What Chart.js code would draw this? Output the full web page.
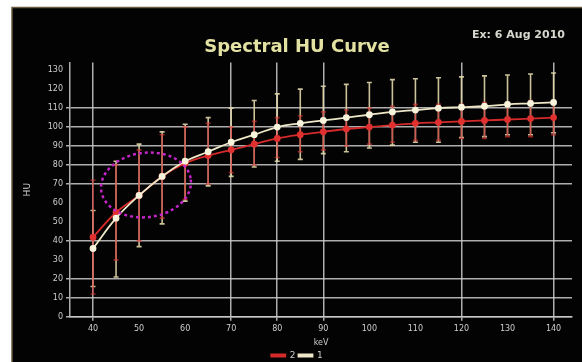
<!DOCTYPE html>
<html><head><meta charset="utf-8">
<script src="https://cdn.jsdelivr.net/npm/chart.js@4/dist/chart.umd.min.js"></script>
<style>html,body{margin:0;padding:0;background:#fff;overflow:hidden}#wrap{width:582px;height:362px;position:relative}</style>
</head><body><div id="wrap"><canvas id="c" width="582" height="362"></canvas></div>
<script>
// ---- data ----
const kv = [40,45,50,55,60,65,70,75,80,85,90,95,100,105,110,115,120,125,130,135,140];
const hu1 = [36,52,64,74,82,87,92,96,100,102,103.5,105,106.5,108,109,110,110.5,111,112,112.5,113];
const hu1Low = [16,21,37,49,61,69,74,79,82,83,86,87,89,90.5,92,92,94.5,95,96,96,97];
const hu1High = [56,82,91,97.5,101.5,105,110,114,117.5,120,121.5,122.5,123.5,125,125.5,126,126.5,127,127.5,128,128.5];
const hu2 = [42,55,64,74,81,85,88,91,94,96,97.5,99,100,101,102,102.5,103,103.5,104,104.5,105];
const hu2Low = [12,30,40,52,62,70,76,80,84,87,88,90,91,92,93,93,94,94,95,95,96];
const hu2High = [72,80,88,96,100,102,100,103,105,106,108,109,110,111,112,112,112,113,113,114,114];
const xTicks = [40,50,60,70,80,90,100,110,120,130,140];
const yTicks = [0,10,20,30,40,50,60,70,80,90,100,110,120,130];
const xGridShown = [40,70,80,90,120,140];
const yGridShown = [0,10,20,40,70,80,90,100,110];
const ellipseData = [51.5, 69.5, 9.8, 17]; // cx (kV), cy (HU), rx (kV), ry (HU)
const seriesNames = ['1','2'];

const GRID = 'rgba(205,205,205,0.85)';

const bgPlugin = {
  id:'bg',
  beforeDraw(chart){
    const c = chart.ctx;
    c.save();
    c.fillStyle='#ffffff'; c.fillRect(0,0,chart.width,chart.height);
    c.fillStyle='#030303'; c.fillRect(12,7,chart.width-12,chart.height-7);
    c.strokeStyle='#6a5a40'; c.lineWidth=1.5;
    c.beginPath(); c.moveTo(12,362); c.lineTo(12,7.5); c.lineTo(582,7.5); c.stroke();
    c.restore();
  }
};

function drawBars(c, xs, ys, low, high, color, w, cap){
  c.strokeStyle=color; c.lineWidth=w;
  for(let i=0;i<kv.length;i++){
    const x = xs.getPixelForValue(kv[i]);
    const y1 = ys.getPixelForValue(low[i]);
    const y2 = ys.getPixelForValue(high[i]);
    c.beginPath(); c.moveTo(x,y1); c.lineTo(x,y2);
    c.moveTo(x-cap,y1); c.lineTo(x+cap,y1);
    c.moveTo(x-cap,y2); c.lineTo(x+cap,y2);
    c.stroke();
  }
}

const errPlugin = {
  id:'err',
  beforeDatasetsDraw(chart){
    const c = chart.ctx, xs = chart.scales.x, ys = chart.scales.y;
    c.save();
    drawBars(c, xs, ys, hu1Low, hu1High, 'rgba(225,215,170,0.9)', 1.6, 2.5);
    drawBars(c, xs, ys, hu2Low, hu2High, 'rgba(210,50,50,0.7)', 1.6, 2.5);
    c.restore();
  }
};

const ellipsePlugin = {
  id:'ell',
  afterDatasetsDraw(chart){
    const c = chart.ctx, xs = chart.scales.x, ys = chart.scales.y;
    const cx = xs.getPixelForValue(ellipseData[0]);
    const cy = ys.getPixelForValue(ellipseData[1]);
    const rx = Math.abs(xs.getPixelForValue(ellipseData[0]+ellipseData[2]) - cx);
    const ry = Math.abs(ys.getPixelForValue(ellipseData[1]+ellipseData[3]) - cy);
    c.save();
    c.strokeStyle='#c424c8'; c.lineWidth=2.5; c.setLineDash([3,3]);
    c.beginPath(); c.ellipse(cx,cy,rx,ry,-0.12,0,Math.PI*2); c.stroke();
    c.restore();
  }
};

const textPlugin = {
  id:'txt',
  afterDraw(chart){
    const c = chart.ctx;
    c.save();
    c.fillStyle='#d8d8d0'; c.font='bold 11px "DejaVu Sans"'; c.textBaseline='middle'; c.textAlign='left';
    c.fillText('Ex: 6 Aug 2010', 472, 35);
    c.restore();
  }
};

new Chart(document.getElementById('c'), {
  type:'line',
  data:{
    datasets:[
      { label:seriesNames[0], data:kv.map((k,i)=>({x:k,y:hu1[i]})),
        borderColor:'#eee8c8', backgroundColor:'#f4eec8', pointBackgroundColor:'#f8f4dc', pointBorderColor:'#f8f4dc',
        borderWidth:1.8, pointRadius:2.5, tension:0.4 },
      { label:seriesNames[1], data:kv.map((k,i)=>({x:k,y:hu2[i]})),
        borderColor:'#d42a2a', backgroundColor:'#d42a2a', pointBackgroundColor:'#e03030', pointBorderColor:'#e03030',
        borderWidth:1.8, pointRadius:2.5, tension:0.4 }
    ]
  },
  options:{
    responsive:false, animation:false, devicePixelRatio:1,
    layout:{padding:{left:22,right:10,top:10,bottom:-8}},
    plugins:{
      title:{display:true, text:'Spectral HU Curve', color:'#e4e2a2',
        font:{family:'DejaVu Sans', size:18, weight:'bold'}, padding:{top:27,bottom:4}},
      legend:{display:true, position:'bottom', reverse:true,
        labels:{color:'#cccccc', font:{family:'DejaVu Sans', size:9}, boxWidth:14, boxHeight:2, padding:3}},
      tooltip:{enabled:false}
    },
    scales:{
      x:{type:'linear', min:35, max:144,
        afterBuildTicks:s=>{s.ticks = xTicks.map(v=>({value:v}));},
        ticks:{color:'#cfcfcf', font:{family:'DejaVu Sans', size:8}, padding:3, maxRotation:0, autoSkip:false},
        grid:{color:ctx=> (ctx.tick && xGridShown.includes(ctx.tick.value)) ? GRID : 'rgba(0,0,0,0)', lineWidth:1.5, tickLength:4},
        border:{color:GRID, width:1.5},
        title:{display:true, text:'keV', color:'#cfcfcf', font:{family:'DejaVu Sans', size:8}, padding:{top:2,bottom:0}}
      },
      y:{type:'linear', min:0, max:134,
        afterBuildTicks:s=>{s.ticks = yTicks.map(v=>({value:v}));},
        afterFit:s=>{s.width=48;},
        ticks:{color:'#cfcfcf', font:{family:'DejaVu Sans', size:8}, padding:3, autoSkip:false},
        grid:{color:ctx=> (ctx.tick && yGridShown.includes(ctx.tick.value)) ? GRID : 'rgba(0,0,0,0)', lineWidth:1.5, tickLength:4},
        border:{color:GRID, width:1.5},
        title:{display:true, text:'HU', color:'#cfcfcf', font:{family:'DejaVu Sans', size:9}, padding:{top:0,bottom:2}}
      }
    }
  },
  plugins:[bgPlugin, errPlugin, ellipsePlugin, textPlugin]
});
</script></body></html>
